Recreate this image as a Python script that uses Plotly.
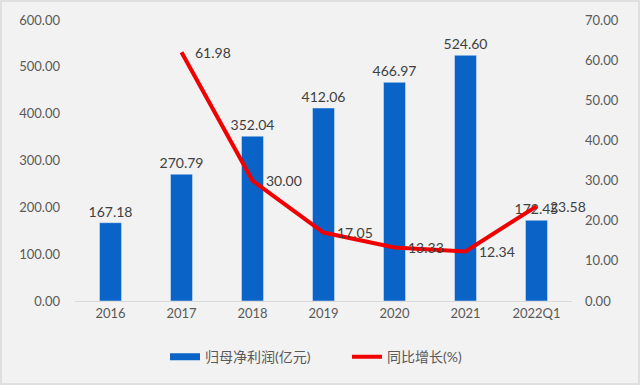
import plotly.graph_objects as go

categories = ["2016", "2017", "2018", "2019", "2020", "2021", "2022Q1"]
profit = [167.18, 270.79, 352.04, 412.06, 466.97, 524.60, 172.45]
growth = [None, 61.98, 30.00, 17.05, 13.33, 12.34, 23.58]

font = dict(family="Lato, Noto Sans CJK SC, sans-serif", size=13, color="#595959")
lblfont = dict(family="Lato, sans-serif", size=14, color="#404040")

fig = go.Figure()
fig.add_trace(go.Bar(
    x=categories, y=profit, name="归母净利润(亿元)", showlegend=False,
    marker=dict(color="#0A64C8"),
    text=[f"{v:.2f}" for v in profit], textposition="outside",
    textfont=lblfont, outsidetextfont=lblfont, constraintext="none", cliponaxis=False,
))
fig.add_trace(go.Scatter(
    x=[categories[0]], y=[None], name="归母净利润(亿元)", mode="lines",
    line=dict(color="#0A64C8", width=7),
))
fig.add_trace(go.Scatter(
    x=categories, y=growth, name="同比增长(%)", yaxis="y2",
    mode="lines", line=dict(color="#F00000", width=4),
    connectgaps=False,
))

annotations = []
for i, v in enumerate(growth):
    if v is None:
        continue
    annotations.append(dict(
        x=i, y=v, xref="x", yref="y2", text=f"{v:.2f}", showarrow=False,
        xanchor="left", yanchor="middle", xshift=11, font=lblfont,
    ))

fig.update_layout(
    width=640, height=385,
    margin=dict(l=75, r=68, t=20, b=84, autoexpand=False),
    paper_bgcolor="#F2F2F2", plot_bgcolor="#F2F2F2",
    font=font, bargap=0.69, showlegend=True,
    legend=dict(orientation="h", x=(165 - 75) / 497, xanchor="left", y=-0.2, yanchor="middle",
                entrywidth=137, entrywidthmode="pixels",
                font=dict(size=14, color="#595959"), bgcolor="rgba(0,0,0,0)"),
    xaxis=dict(type="category", categoryorder="array", categoryarray=categories,
               range=[-0.5, len(categories) - 0.5], autorange=False,
               showgrid=False, showline=True, linecolor="#D9D9D9", ticks="",
               tickfont=font, automargin=False),
    yaxis=dict(range=[0, 600], dtick=100, tickformat=".2f", showgrid=False,
               zeroline=False, tickfont=font, automargin=False, ticklabelstandoff=14),
    yaxis2=dict(range=[0, 70], dtick=10, tickformat=".2f", overlaying="y", side="right",
                showgrid=False, zeroline=False, tickfont=font, automargin=False,
                ticklabelstandoff=12),
    annotations=annotations,
    shapes=[dict(type="rect", xref="paper", yref="paper",
                 x0=-74/497, x1=1 + 67/497, y0=1 + 19/281, y1=-83/281,
                 line=dict(color="#D9D9D9", width=1.5), fillcolor="rgba(0,0,0,0)")],
)

fig.write_html("out.html", config={"displayModeBar": False},
               post_script="document.body.style.margin='0';document.body.style.overflow='hidden';")
